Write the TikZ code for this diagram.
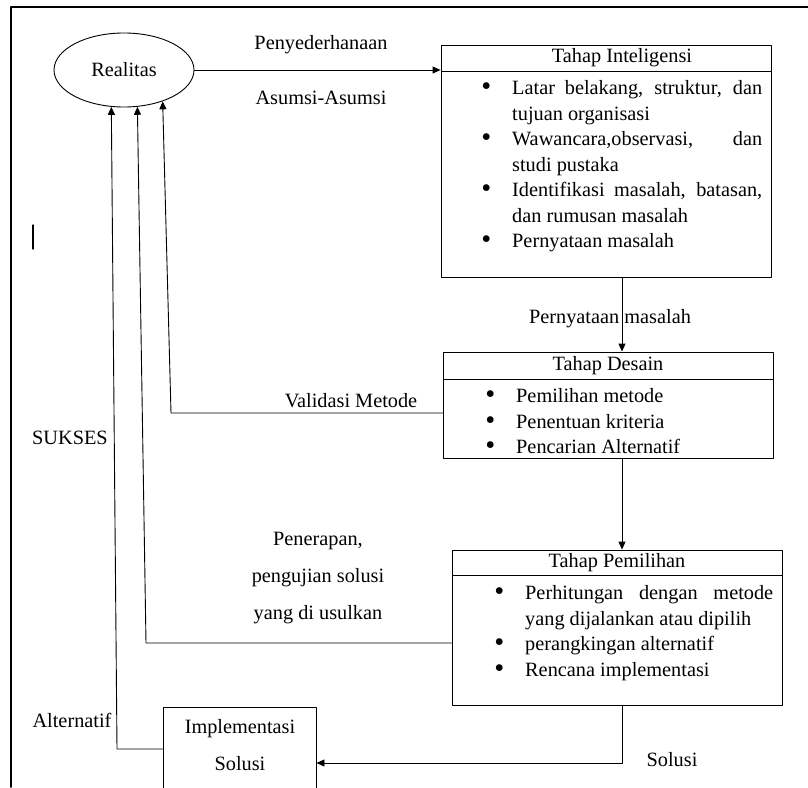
\documentclass[tikz,border=0pt]{standalone}
\usepackage{fontspec}
\setmainfont{Liberation Serif}
\usetikzlibrary{shapes.geometric,arrows.meta}
\tolerance=10000
\hyphenpenalty=10000
\newcommand\butir[1]{\par\noindent\llap{\raisebox{-1.2pt}{\scalebox{1.4}{\textbullet}}\hspace{21pt}}#1}
\tikzset{
	kotak/.style={draw,line width=0.9pt,inner sep=0pt},
	judul/.style={kotak,minimum width=330pt},
	isi/.style={inner sep=0pt,anchor=north west,align=justify},
	panah/.style={-{Triangle[length=8pt,width=7pt]},line width=0.9pt},
	duabaris/.style={align=center,font=\fontsize{20.3}{37}\selectfont},
}
\begin{document}
\begin{tikzpicture}[x=1pt,y=-1pt,line cap=round,line join=round,font=\fontsize{20.3}{25.5}\selectfont]
	\useasboundingbox (0,0) rectangle (808,787);
	\clip (0,0) rectangle (808,787);
	\draw[line width=1.6pt] (808,7) -| (11,787);
	\draw[line width=1.2pt] (33,225) -- (33,249);
	\node[kotak,ellipse,minimum width=140pt,minimum height=74pt] (Realitas) at (124,70) {Realitas};
	\node[judul,minimum height=26pt] (intH) at (606,58) {\hspace*{32pt}Tahap Inteligensi};
	\node[kotak,minimum width=330pt,minimum height=206pt] (intB) at (606,174) {};
	\node[isi,text width=250pt] (intT) at (512,69) {\butir{Latar belakang, struktur, dan tujuan organisasi}\butir{Wawancara,observasi, dan studi pustaka}\butir{Identifikasi masalah, batasan, dan rumusan masalah}\butir{Pernyataan masalah}};
	\node[judul,minimum height=27pt] (desH) at (608,365.5) {Tahap Desain};
	\node[kotak,minimum width=330pt,minimum height=79pt] (desB) at (608,418.5) {};
	\node[isi,text width=250pt] (desT) at (516,377) {\butir{Pemilihan metode}\butir{Penentuan kriteria}\butir{Pencarian Alternatif}};
	\node[judul,minimum height=25pt] (pemH) at (617,562.5) {Tahap Pemilihan};
	\node[kotak,minimum width=330pt,minimum height=130pt] (pemB) at (617,640) {};
	\node[isi,text width=248pt] (pemT) at (525,574) {\butir{Perhitungan dengan metode yang dijalankan atau dipilih}\butir{perangkingan alternatif}\butir{Rencana implementasi}};
	\node[kotak,minimum width=153pt,minimum height=112pt] (impl) at (239.5,763) {};
	\node[duabaris] (implT) at (240,745) {Implementasi\\Solusi};
	\node (lPeny) at (321,45) {Penyederhanaan};
	\node (lAsumsi) at (321,98) {Asumsi-Asumsi};
	\node (lPernyataan) at (610,319) {Pernyataan masalah};
	\node (lValidasi) at (351,401) {Validasi Metode};
	\node (lSukses) at (70,438) {SUKSES};
	\node[duabaris] (lPenerapan) at (318,578) {Penerapan,\\pengujian solusi\\yang di usulkan};
	\node (lAlt) at (72,720) {Alternatif};
	\node (lSolusi) at (672,760) {Solusi};
	\coordinate (poros) at (622,0);
	\coordinate (kVal) at (171,413);
	\coordinate (kPen) at (146,643);
	\coordinate (kAlt) at (117,749);
	\draw[panah] (Realitas.east) -- (Realitas.east -| intH.west);
	\draw[panah] (intB.south -| poros) -- (desH.north -| poros);
	\draw[panah] (desB.south -| poros) -- (pemH.north -| poros);
	\draw[panah] (pemB.south -| poros) |- (impl.east);
	\draw[panah] (desB.west |- kVal) -- (kVal) -- (Realitas.-39);
	\draw[panah] (pemB.west |- kPen) -- (kPen) -- (Realitas.-70);
	\draw[panah] (impl.west |- kAlt) -- (kAlt) -- (Realitas.-109);
\end{tikzpicture}
\end{document}
